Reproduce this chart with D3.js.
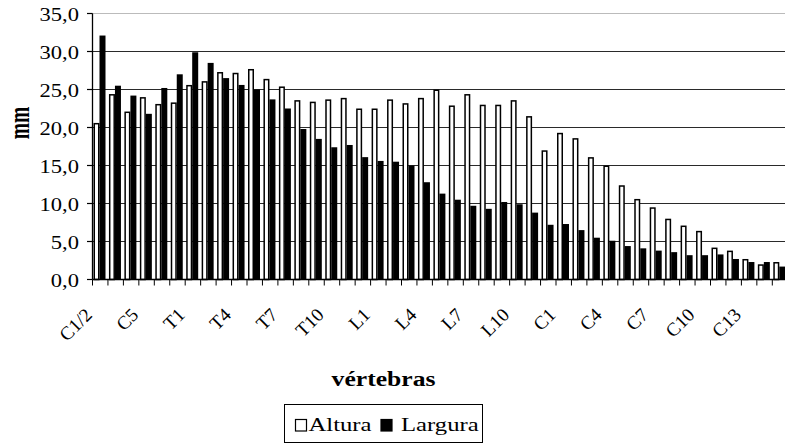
<!DOCTYPE html>
<html><head><meta charset="utf-8">
<script src="https://cdn.jsdelivr.net/npm/d3@7/dist/d3.min.js"></script>
<style>html,body{margin:0;padding:0;background:#fff;}svg{display:block;}</style>
</head><body>
<svg id="chart" width="785" height="446"></svg>
<script>
const categories = ["C1/2","C3","C4","C5","C6","C7",
  "T1","T2","T3","T4","T5","T6","T7","T8","T9","T10","T11","T12",
  "L1","L2","L3","L4","L5","L6","L7","L8","L9","L10","L11","L12",
  "C1","C2","C3 ","C4 ","C5 ","C6 ","C7 ","C8","C9","C10","C11","C12","C13","C14","C15"];
const tickLabels = ["C1/2","C5","T1","T4","T7","T10","L1","L4","L7","L10","C1","C4","C7","C10","C13"];
const altura = [20.6,24.4,22.1,24.0,23.1,23.3,25.6,26.1,27.3,27.2,
  27.7,26.4,25.4,23.6,23.4,23.7,23.9,22.5,22.5,23.7,
  23.2,23.9,25.0,22.9,24.4,23.0,23.0,23.6,21.5,17.0,
  19.3,18.6,16.1,15.0,12.4,10.6,9.5,8.0,7.1,6.4,
  4.2,3.8,2.7,2.0,2.3];
const largura = [32.1,25.5,24.2,21.8,25.2,27.0,29.9,28.5,26.5,25.6,
  25.0,23.7,22.5,19.8,18.5,17.4,17.7,16.1,15.6,15.5,
  15.0,12.8,11.3,10.5,9.7,9.3,10.2,9.9,8.8,7.2,
  7.3,6.5,5.5,5.1,4.4,4.1,3.8,3.6,3.2,3.2,
  3.3,2.7,2.3,2.3,1.7];
const yTicks = [0,5,10,15,20,25,30,35];
const seriesNames = ["Altura","Largura"];

const svg = d3.select("#chart");
const mLeft = 92.5, mRight = 787.75, mTop = 13.5, mBottom = 279.5;
const serif = "'Liberation Serif','Times New Roman',serif";

const x0 = d3.scaleBand().domain(d3.range(categories.length)).range([mLeft, mRight]).padding(0);
const x1 = d3.scaleBand().domain(seriesNames).range([1, 13]).padding(0);
const y = d3.scaleLinear().domain([0, 35]).range([mBottom, mTop]);

// gridlines
svg.append("g").selectAll("line").data(yTicks.filter(v => v > 0 && v < 35)).join("line")
  .attr("x1", mLeft).attr("x2", 785).attr("y1", d => y(d)).attr("y2", d => y(d))
  .attr("stroke", "#2a2a2a").attr("stroke-width", 1);
svg.append("line").attr("x1", mLeft).attr("x2", 785).attr("y1", y(35)).attr("y2", y(35))
  .attr("stroke", "#777").attr("stroke-width", 1.2).attr("stroke-dasharray", "1,1");

// bars
const data = categories.map((c, i) => ({i, Altura: altura[i], Largura: largura[i]}));
const groups = svg.append("g").selectAll("g").data(data).join("g")
  .attr("transform", d => `translate(${x0(d.i)},0)`);
groups.append("rect")
  .attr("x", x1("Altura") + 0.75).attr("width", x1.bandwidth() - 1.5)
  .attr("y", d => y(d.Altura) + 0.75).attr("height", d => y(0) - y(d.Altura) - 0.75)
  .attr("fill", "#fff").attr("stroke", "#000").attr("stroke-width", 1.5);
groups.append("rect")
  .attr("x", x1("Largura")).attr("width", x1.bandwidth())
  .attr("y", d => y(d.Largura)).attr("height", d => y(0) - y(d.Largura))
  .attr("fill", "#000");

// axes lines
svg.append("line").attr("x1", mLeft).attr("x2", mLeft).attr("y1", y(35)).attr("y2", mBottom)
  .attr("stroke", "#000").attr("stroke-width", 1.3);
svg.append("line").attr("x1", mLeft).attr("x2", 785).attr("y1", mBottom).attr("y2", mBottom)
  .attr("stroke", "#000").attr("stroke-width", 1.3);

// y ticks
const yAx = svg.append("g");
yAx.selectAll("line").data(yTicks).join("line")
  .attr("x1", mLeft - 5.5).attr("x2", mLeft).attr("y1", d => y(d)).attr("y2", d => y(d))
  .attr("stroke", "#000").attr("stroke-width", 1.2);
yAx.selectAll("text").data(yTicks).join("text")
  .attr("transform", d => `translate(79,${y(d) + 7}) scale(1.22,1)`)
  .attr("text-anchor", "end").attr("font-family", serif).attr("font-size", 18.5)
  .text(d => d3.format(".1f")(d).replace(".", ","));

// x ticks
svg.append("g").selectAll("line").data(d3.range(categories.length + 1)).join("line")
  .attr("x1", i => mLeft + i * x0.step()).attr("x2", i => mLeft + i * x0.step())
  .attr("y1", mBottom).attr("y2", mBottom + 6).attr("stroke", "#000").attr("stroke-width", 1);

// x labels
const labelIdx = d3.range(0, categories.length, 3);
svg.append("g").selectAll("text").data(labelIdx).join("text")
  .attr("transform", (i, k) => `translate(${x0(i) + x0.bandwidth() / 2 - 7},316) rotate(-45)`)
  .attr("text-anchor", "end").attr("font-family", serif).attr("font-size", 19)
  .text((i, k) => tickLabels[k]);

// axis titles
svg.append("text").attr("transform", "translate(383.5,386) scale(1.22,1)")
  .attr("text-anchor", "middle").attr("font-family", serif).attr("font-size", 21)
  .attr("font-weight", "bold").text("vértebras");
svg.append("text").attr("transform", "translate(28.5,123) scale(1.55,1) rotate(-90)")
  .attr("text-anchor", "middle").attr("font-family", serif).attr("font-size", 19.5)
  .attr("font-weight", "bold").text("mm");

// legend
const lg = svg.append("g");
lg.append("rect").attr("x", 284.5).attr("y", 404.5).attr("width", 198).attr("height", 38)
  .attr("fill", "#fff").attr("stroke", "#000").attr("stroke-width", 1);
const legendItems = [
  {name: seriesNames[0], sx: 295.5, tx: 308.5, fill: "#fff"},
  {name: seriesNames[1], sx: 381, tx: 401, fill: "#000"}
];
lg.selectAll("rect.sw").data(legendItems).join("rect").attr("class", "sw")
  .attr("x", d => d.sx).attr("y", 419.5).attr("width", 11).attr("height", 11.5)
  .attr("fill", d => d.fill).attr("stroke", "#000").attr("stroke-width", 1.2);
lg.selectAll("text").data(legendItems).join("text")
  .attr("transform", d => `translate(${d.tx},431) scale(1.3,1)`)
  .attr("font-family", serif).attr("font-size", 19).text(d => d.name);
</script>
</body></html>
